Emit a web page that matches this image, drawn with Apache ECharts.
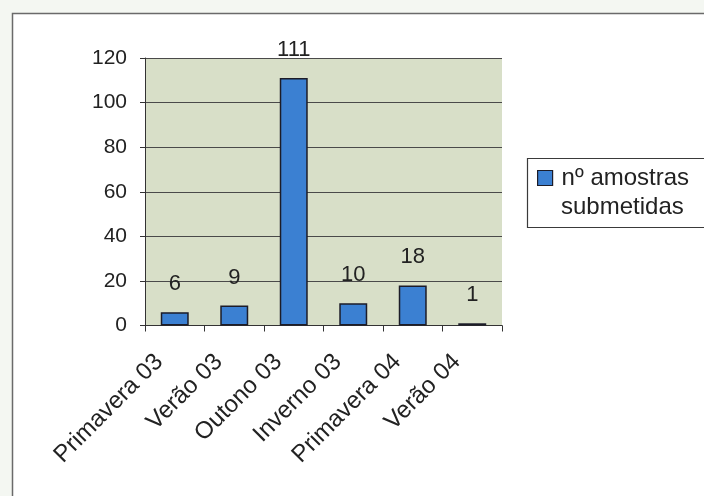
<!DOCTYPE html>
<html><head><meta charset="utf-8">
<script src="https://cdn.jsdelivr.net/npm/echarts@6/dist/echarts.min.js"></script>
<style>html,body{margin:0;padding:0;background:#f4f7f2;}#c{width:704px;height:496px;}</style>
</head><body><div id="c"></div>
<script>
const categories = ["Primavera 03", "Verão 03", "Outono 03", "Inverno 03", "Primavera 04", "Verão 04"];
const values = [6, 9, 111, 10, 18, 1];
const seriesName = "nº amostras";
const legendSecondLine = "submetidas";
const yTicks = [0, 20, 40, 60, 80, 100, 120];

const chart = echarts.init(document.getElementById('c'), null, {renderer: 'canvas'});
const font = '"Liberation Sans", Arial, sans-serif';
chart.setOption({
  backgroundColor: '#f4f7f2',
  textStyle: {fontFamily: font},
  graphic: [{
    type: 'rect', z: -10,
    shape: {x: 12.5, y: 13.5, width: 720, height: 520},
    style: {fill: '#ffffff', stroke: '#6a6a6a', lineWidth: 1.5}
  }, {
    type: 'rect', z: -5,
    shape: {x: 527.5, y: 158.5, width: 200, height: 69},
    style: {fill: '#ffffff', stroke: '#3a3a3a', lineWidth: 1.2}
  }, {
    type: 'text', z: 10,
    x: 561, y: 207,
    style: {text: legendSecondLine, fontSize: 24, fill: '#222', fontFamily: font, verticalAlign: 'middle', align: 'left'}
  }],
  grid: {left: 145, right: 202, top: 58, bottom: 170.5, show: true, backgroundColor: '#d8dfc8', borderWidth: 0},
  legend: {
    left: 537, top: 164,
    orient: 'vertical',
    padding: 0,
    itemWidth: 15, itemHeight: 15,
    icon: 'rect',
    itemStyle: {borderColor: '#1c1c28', borderWidth: 1.2},
    textStyle: {fontSize: 24, color: '#222', lineHeight: 28, padding: [0, 0, 0, 4], fontFamily: font},
    data: [seriesName]
  },
  xAxis: {
    type: 'category', data: categories,
    axisLine: {lineStyle: {color: '#333', width: 1}},
    axisTick: {show: true, length: 6, lineStyle: {color: '#333'}},
    axisLabel: {rotate: 45, fontSize: 24, color: '#222', margin: 17, padding: [0, 22, 0, 0], interval: 0, fontFamily: font}
  },
  yAxis: {
    type: 'value', min: 0, max: 120, interval: 20,
    axisLine: {show: true, lineStyle: {color: '#333'}},
    axisTick: {show: true, length: 5, lineStyle: {color: '#333'}},
    axisLabel: {fontSize: 21, color: '#222', margin: 18, fontFamily: font,
      formatter: v => yTicks.includes(v) ? String(v) : ''},
    splitLine: {show: true, lineStyle: {color: '#4a4a4a', width: 1}}
  },
  series: [{
    name: seriesName, type: 'bar', data: values,
    barWidth: '47%',
    itemStyle: {color: '#3b80d2', borderColor: '#1c1c28', borderWidth: 1.5},
    label: {show: true, position: 'top', distance: 17, fontSize: 22, color: '#222', fontFamily: font}
  }]
});
</script></body></html>
